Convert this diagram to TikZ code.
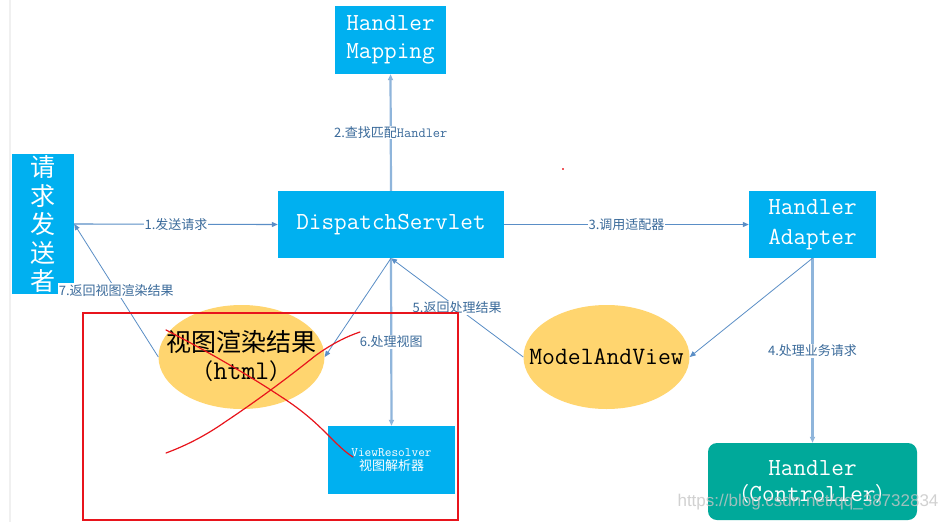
\documentclass[tikz,border=0pt]{standalone}
\usepackage{fontspec}
\newfontfamily\cjk{Noto Sans CJK SC}
\newfontfamily\wmfont{Liberation Sans}
\usetikzlibrary{arrows.meta,shapes.geometric}
\definecolor{boxblue}{HTML}{00B0F0}
\definecolor{gold}{HTML}{FFD56F}
\definecolor{tealbox}{HTML}{00A99A}
\definecolor{conn}{HTML}{5A8EC6}
\definecolor{connv}{HTML}{8FB5DB}
\definecolor{lbl}{HTML}{3A6A9A}
\definecolor{redx}{HTML}{E8141C}
\begin{document}
\begin{tikzpicture}[x=1pt,y=-1pt,
  bluebox/.style={fill=boxblue, draw=none, text=white, inner sep=0pt, align=center},
  goldell/.style={ellipse, fill=gold, draw=none, inner sep=0pt, minimum width=166pt, minimum height=104pt},
  plaintext/.style={inner sep=0pt, align=center},
  boxfont/.style={font=\ttfamily\fontsize{24.5}{28}\selectfont},
  tip/.style={-{Triangle[length=6pt,width=5pt]}},
  thinconn/.style={draw=conn, line width=0.8pt, tip},
  hconn/.style={draw=conn, line width=1.1pt, tip},
  vconn/.style={draw=connv, line width=2.2pt, tip},
  lab/.style={fill=white, text=lbl, font=\cjk\fontsize{13}{15}\selectfont, inner sep=1pt},
  redline/.style={draw=redx, line width=1.3pt},
  redstroke/.style={draw=redx, line width=1.2pt, line cap=round, line join=round}
]
\useasboundingbox (0,0) rectangle (939,522);
\fill[white] (0,0) rectangle (939,522);
\draw[gray!12, line width=1.5pt] (10,0) -- (10,522);
\fill[redx!70] (562,168) rectangle (564,170);

% nodes
\node[bluebox, minimum width=62pt, minimum height=140pt,
      font=\cjk\fontsize{25}{28.5}\selectfont] (req) at (43,224)
      {请\\求\\发\\送\\者};
\node[bluebox, boxfont, minimum width=111pt, minimum height=68pt] (hm) at (390.5,40)
      {Handler\\Mapping};
\node[bluebox, boxfont, minimum width=226pt, minimum height=67pt] (ds) at (391,224.5)
      {DispatchServlet};
\node[bluebox, font=\ttfamily\fontsize{24.5}{29.5}\selectfont, minimum width=127pt, minimum height=67pt] (ad) at (812.5,224.5)
      {Handler\\Adapter};
\node[goldell] (mav) at (606.5,357) {};
\node[plaintext, font=\ttfamily\fontsize{25}{28}\selectfont] (mavt) at (606.5,357) {ModelAndView};
\node[goldell] (view) at (241.5,357) {};
\node[plaintext, font=\cjk\fontsize{25}{28}\selectfont] (viewt) at (241.5,356)
      {视图渲染结果\\
       {\fontsize{22}{26}\selectfont （}{\ttfamily\fontsize{27}{26}\selectfont html}{\fontsize{22}{26}\selectfont ）}};
\node[bluebox, minimum width=127pt, minimum height=68pt, font=\cjk\fontsize{13}{14}\selectfont] (vr) at (391.5,460)
      {{\ttfamily\fontsize{13}{13}\selectfont ViewResolver}\\
       视图解析器};
\node[fill=tealbox, rounded corners=9pt, text=white, inner sep=0pt, align=center,
      minimum width=209pt, minimum height=77pt, font=\ttfamily\fontsize{24.5}{26}\selectfont] (hc) at (812.5,481.5)
      {Handler\\
       {\cjk\fontsize{20}{24}\selectfont （}Controller{\cjk\fontsize{20}{24}\selectfont ）}};

% connectors
\draw[hconn] (req.east) -- node[lab]{1.发送请求} (ds.west);
\draw[vconn] (ds.north) -- node[lab]{2.查找匹配{\ttfamily\fontsize{14}{15}\selectfont Handler}} (hm.south);
\draw[hconn] (ds.east) -- node[lab]{3.调用适配器} (ad.west);
\draw[vconn] (ad.south) -- node[lab]{4.处理业务请求} (hc.north);
\draw[thinconn] (ad.south) -- (mav.east);
\draw[thinconn] (mav.west) -- node[lab, pos=0.5]{5.返回处理结果} (ds.south);
\draw[vconn] (ds.south) -- node[lab]{6.处理视图} (vr.north);
\draw[thinconn] (ds.south) -- (view.east);
\draw[thinconn] (view.west) -- node[lab, pos=0.5]{7.返回视图渲染结果} (req.east);

% red frame and cross
\draw[redline] (83,313) rectangle (458,520);
\draw[redstroke] (166,330) .. controls (205,350) and (250,376) .. (280,396)
   .. controls (305,412) and (318,425) .. (330,437)
   .. controls (338,445) and (345,452) .. (353,457);
\draw[redstroke] (166,453) .. controls (185,446) and (205,436) .. (225,422)
   .. controls (255,402) and (285,380) .. (315,356)
   .. controls (330,345) and (345,337) .. (360,332);

% watermark
\node[text=gray!45, font=\wmfont\fontsize{17}{20}\selectfont, inner sep=0pt, opacity=0.8]
   (wm) at (808,502) {https://blog.csdn.net/qq\_38732834};
\end{tikzpicture}
\end{document}
